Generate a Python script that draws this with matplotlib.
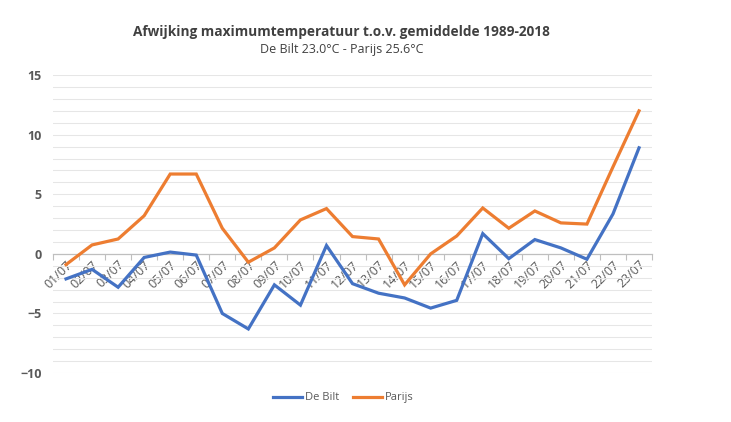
import numpy as np
import matplotlib
matplotlib.use("Agg")
import matplotlib.pyplot as plt
from matplotlib.ticker import MultipleLocator, FixedLocator

# ---------------------------------------------------------------------------
# Data: afwijking max. temperatuur t.o.v. gemiddelde 1989-2018 (juli 2019)
# ---------------------------------------------------------------------------
dagen = ["01/07", "02/07", "03/07", "04/07", "05/07", "06/07", "07/07",
         "08/07", "09/07", "10/07", "11/07", "12/07", "13/07", "14/07",
         "15/07", "16/07", "17/07", "18/07", "19/07", "20/07", "21/07",
         "22/07", "23/07"]
de_bilt = [-2.1, -1.3, -2.8, -0.3, 0.15, -0.1, -5.0, -6.3, -2.6, -4.3, 0.7,
           -2.5, -3.3, -3.7, -4.55, -3.9, 1.7, -0.4, 1.2, 0.5, -0.45, 3.35, 8.9]
parijs = [-0.9, 0.75, 1.25, 3.2, 6.7, 6.7, 2.15, -0.7, 0.5, 2.85, 3.8,
          1.45, 1.25, -2.6, 0.0, 1.5, 3.85, 2.15, 3.6, 2.6, 2.5, 7.3, 12.0]

BLAUW = "#4472C4"
ORANJE = "#ED7D31"
GRIJS = "#595959"

plt.rcParams["font.family"] = ["Open Sans", "DejaVu Sans"]

fig = plt.figure(figsize=(7.31, 4.22), dpi=100)
ax = fig.add_axes([0.0725, 0.116, 0.8195, 0.706])

x = np.arange(len(dagen))
ax.plot(x, de_bilt, color=BLAUW, lw=2.3, label="De Bilt", solid_joinstyle="miter")
ax.plot(x, parijs, color=ORANJE, lw=2.3, label="Parijs", solid_joinstyle="miter")

ax.set_xlim(-0.5, len(dagen) - 0.5)
ax.set_ylim(-10, 15)

# horizontale rasterlijnen per graad
ax.yaxis.set_major_locator(MultipleLocator(5))
ax.yaxis.set_minor_locator(MultipleLocator(1))
ax.grid(which="both", axis="y", color="#E6E6E6", lw=0.75)
ax.set_axisbelow(True)

for s in ["top", "right", "left"]:
    ax.spines[s].set_visible(False)
ax.spines["bottom"].set_position(("data", 0))
ax.spines["bottom"].set_color("#BFBFBF")
ax.spines["bottom"].set_linewidth(0.9)
ax.spines["bottom"].set_zorder(1)

ax.set_xticks(x)
ax.set_xticklabels(dagen, rotation=45, ha="right", va="top",
                   rotation_mode="anchor", fontsize=9, color=GRIJS)
ax.xaxis.set_minor_locator(FixedLocator(np.arange(-0.5, len(dagen), 1)))
ax.tick_params(axis="x", which="major", length=0, pad=3)
ax.tick_params(axis="x", which="minor", length=4, color="#BFBFBF", width=0.8)
ax.tick_params(axis="y", which="both", length=0, labelsize=9,
               labelcolor=GRIJS, pad=8)
for lbl in ax.get_yticklabels():
    lbl.set_fontweight("bold")

fig.text(0.467, 0.925, "Afwijking maximumtemperatuur t.o.v. gemiddelde 1989-2018",
         ha="center", va="center", fontsize=9.8, fontweight="bold", color="#404040")
fig.text(0.467, 0.882, "De Bilt 23.0°C - Parijs 25.6°C",
         ha="center", va="center", fontsize=9, color="#404040")

fig.legend(loc="center", bbox_to_anchor=(0.47, 0.057), ncol=2, frameon=False,
           fontsize=8, handlelength=2.6, handletextpad=0.3, columnspacing=1.2,
           labelcolor=GRIJS)

fig.savefig("out.png", dpi=100)
